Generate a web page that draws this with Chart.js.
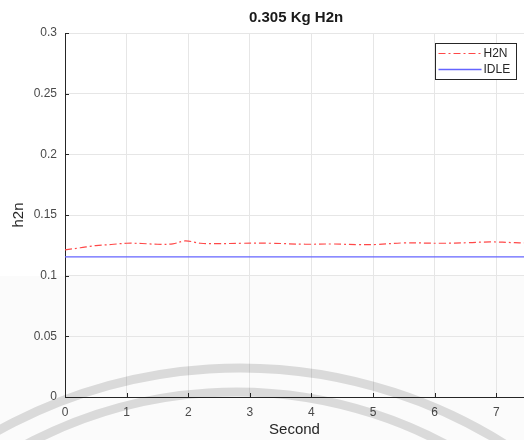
<!DOCTYPE html>
<html>
<head>
<meta charset="utf-8">
<script src="https://cdn.jsdelivr.net/npm/chart.js@4.4.1/dist/chart.umd.min.js"></script>
<style>
  html, body { margin: 0; padding: 0; background: #fff; overflow: hidden; }
  #wrap { width: 524px; height: 440px; position: relative; }
</style>
</head>
<body>
<div id="wrap"><canvas id="h2n-chart" width="524" height="440"></canvas></div>
<script>
// data
const seconds = [0, 0.25, 0.5, 0.75, 1, 1.25, 1.5, 1.75, 1.95, 2.2, 2.5, 2.85, 3.35, 3.9, 4.35, 4.75, 5.05, 5.5, 6.1, 6.55, 6.9, 7.3, 7.45];
const h2nValues = [0.1212, 0.1230, 0.1248, 0.1257, 0.1267, 0.1265, 0.1259, 0.1262, 0.1286, 0.1267, 0.1264, 0.1267, 0.1267, 0.1259, 0.1261, 0.1256, 0.1257, 0.1270, 0.1267, 0.1272, 0.1278, 0.1272, 0.1270];
const idleSeconds = [0, 7.45];
const idleValues = [0.1155, 0.1155];
const xTicks = [0, 1, 2, 3, 4, 5, 6, 7];
const yTicks = [0, 0.05, 0.1, 0.15, 0.2, 0.25, 0.3];
const chartTitle = "0.305 Kg H2n";

const axisColor = "#262626";
const gridColor = "#e6e6e6";
const fontFamily = "'Liberation Sans', Arial, Helvetica, sans-serif";

// light grey band + watermark arcs seen in the picture
const backdrop = {
    id: "backdrop",
    beforeDraw(chart) {
        const ctx = chart.ctx;
        ctx.save();
        ctx.fillStyle = "#fff";
        ctx.fillRect(0, 0, chart.width, chart.height);
        ctx.fillStyle = "#fbfbfb";
        ctx.fillRect(0, 276, chart.width, chart.height - 276);
        ctx.restore();
    },
    afterDraw(chart) {
        const ctx = chart.ctx;
        ctx.save();
        ctx.strokeStyle = "rgba(0,0,0,0.13)";
        ctx.lineWidth = 9;
        ctx.beginPath();
        ctx.arc(240, 866, 498, Math.PI * 1.1, Math.PI * 1.95);
        ctx.stroke();
        ctx.beginPath();
        ctx.arc(236, 838, 446, Math.PI * 1.1, Math.PI * 1.95);
        ctx.stroke();
        ctx.restore();
    },
};

// title centred on the (clipped) axes, inward ticks and boxed legend
const matlabBits = {
    id: "matlabBits",
    afterDatasetsDraw(chart) {
        const ctx = chart.ctx;
        const area = chart.chartArea;
        const xs = chart.scales.x;
        const ys = chart.scales.y;
        ctx.save();

        // title: the original axes run a little past the right edge (to ~7.5 s)
        ctx.fillStyle = "#1a1a1a";
        ctx.font = "bold 15px " + fontFamily;
        ctx.textAlign = "center";
        ctx.textBaseline = "middle";
        ctx.fillText(chartTitle, (area.left + xs.getPixelForValue(7.5)) / 2, 18);
        ctx.textAlign = "left";

        ctx.strokeStyle = axisColor;
        ctx.lineWidth = 1;
        ctx.beginPath();
        xTicks.forEach((t) => {
            const px = Math.round(xs.getPixelForValue(t)) + 0.5;
            ctx.moveTo(px, area.bottom);
            ctx.lineTo(px, area.bottom - 4);
        });
        yTicks.forEach((t) => {
            const py = Math.round(ys.getPixelForValue(t)) + 0.5;
            ctx.moveTo(area.left, py);
            ctx.lineTo(area.left + 4, py);
        });
        ctx.stroke();

        // legend
        const bx = 435.5, by = 43.5, bw = 81, bh = 36;
        ctx.fillStyle = "#fff";
        ctx.fillRect(bx, by, bw, bh);
        ctx.strokeStyle = axisColor;
        ctx.strokeRect(bx, by, bw, bh);
        ctx.font = "12px " + fontFamily;
        ctx.textBaseline = "middle";
        chart.data.datasets.forEach((ds, i) => {
            const y = by + 10 + i * 16;
            ctx.strokeStyle = ds.borderColor;
            ctx.lineWidth = ds.borderWidth;
            ctx.setLineDash(ds.borderDash || []);
            ctx.beginPath();
            ctx.moveTo(bx + 3, y);
            ctx.lineTo(bx + 46, y);
            ctx.stroke();
            ctx.setLineDash([]);
            ctx.fillStyle = axisColor;
            ctx.fillText(ds.label, bx + 48, y + 0.5);
        });
        ctx.restore();
    },
};

const h2nChartConfig = {
    type: "line",
    data: {
        datasets: [
            {
                label: "H2N",
                data: seconds.map((s, i) => ({ x: s, y: h2nValues[i] })),
                borderColor: "#ff4848",
                borderWidth: 1.2,
                borderDash: [7, 3, 2, 3],
                pointRadius: 0,
                tension: 0.4,
                fill: false,
            },
            {
                label: "IDLE",
                data: idleSeconds.map((s, i) => ({ x: s, y: idleValues[i] })),
                borderColor: "#6464ff",
                borderWidth: 1.4,
                pointRadius: 0,
                fill: false,
            },
        ],
    },
    options: {
        responsive: false,
        animation: false,
        layout: { padding: { left: 0, right: 0, top: 33, bottom: 0 } },
        plugins: {
            legend: { display: false },
            tooltip: { enabled: false },
            title: { display: false },
        },
        scales: {
            x: {
                type: "linear",
                min: 0,
                max: 7.45,
                afterBuildTicks(scale) {
                    scale.ticks = xTicks.map((v) => ({ value: v }));
                },
                afterFit(scale) {
                    scale.height = 43;
                },
                grid: { color: gridColor, drawTicks: false },
                border: { color: axisColor, width: 1 },
                ticks: {
                    color: "#4a4a4a",
                    padding: 8,
                    maxRotation: 0,
                    font: { family: fontFamily, size: 12 },
                    callback: (v) => String(v),
                },
                title: {
                    display: true,
                    text: "Second",
                    color: "#262626",
                    font: { family: fontFamily, size: 15 },
                    padding: { top: 0, bottom: 1 },
                },
            },
            y: {
                min: 0,
                max: 0.3,
                afterBuildTicks(scale) {
                    scale.ticks = yTicks.map((v) => ({ value: v }));
                },
                afterFit(scale) {
                    scale.width = 65;
                },
                grid: { color: gridColor, drawTicks: false },
                border: { color: axisColor, width: 1 },
                ticks: {
                    color: "#4a4a4a",
                    padding: 8,
                    font: { family: fontFamily, size: 12 },
                    callback: (v) => String(+v.toFixed(2)),
                },
                title: {
                    display: true,
                    text: "h2n",
                    color: "#262626",
                    font: { family: fontFamily, size: 15 },
                    padding: { top: 10, bottom: 0 },
                },
            },
        },
    },
    plugins: [backdrop, matlabBits],
};

new Chart(document.getElementById("h2n-chart"), h2nChartConfig);
</script>
</body>
</html>
